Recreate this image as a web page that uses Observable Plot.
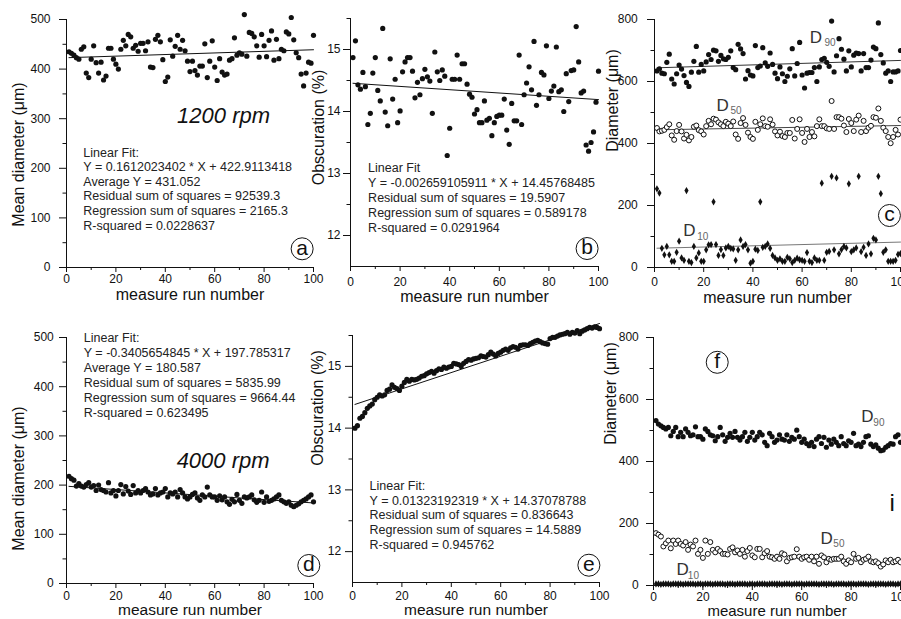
<!DOCTYPE html>
<html><head><meta charset="utf-8">
<script src="https://cdn.jsdelivr.net/npm/d3@7"></script>
<script src="https://cdn.jsdelivr.net/npm/@observablehq/plot@0.6"></script>
<style>
body{margin:0;background:#fff;}
#wrap{position:relative;width:901px;height:619px;overflow:hidden;background:#fff;}
.panel{position:absolute;}
</style></head><body><div id="wrap"></div>
<script>
// ---------- data ----------
const meanA = [435,432,428,423,420,440,445,392,383,420,
 447,413,392,414,378,386,442,442,420,410,
 400,440,458,447,470,465,442,448,436,452,
 452,437,455,404,403,460,468,455,419,375,
 384,459,426,446,468,440,458,437,416,395,
 416,397,388,406,406,451,383,416,457,404,
 377,421,394,388,390,418,421,463,428,433,
 430,510,426,474,472,465,447,424,470,447,
 425,458,477,418,460,421,440,437,475,471,
 504,459,433,423,390,366,392,414,412,468];
const obscB = [14.87,15.14,14.43,14.36,14.63,14.40,13.79,13.97,14.62,14.87,
 14.34,14.17,15.34,13.99,13.77,14.85,14.20,14.52,13.82,14.01,
 14.64,14.80,14.87,14.87,14.65,14.22,14.47,14.27,14.53,14.68,
 14.56,14.49,13.97,14.96,14.64,14.50,14.67,14.57,13.29,13.73,
 14.52,14.52,14.91,14.52,14.77,14.77,14.44,14.28,14.23,13.96,
 14.03,13.82,13.82,14.17,13.86,13.89,13.61,13.82,13.92,13.94,
 13.94,14.20,13.70,13.47,14.13,13.85,13.85,14.91,13.79,14.27,
 14.46,14.72,14.35,15.13,14.10,14.27,14.63,14.59,15.06,14.21,
 14.33,14.41,15.04,14.32,14.35,14.00,14.61,14.16,14.66,14.67,
 15.37,14.80,14.30,14.33,13.46,13.36,13.50,13.67,14.15,14.65];
const d90C = [634,641,627,625,662,688,608,592,625,653,
 640,619,597,584,630,665,713,630,655,634,
 663,687,671,701,699,665,684,673,671,678,
 699,645,638,720,705,690,608,635,621,618,
 716,645,650,709,660,649,692,655,627,609,
 647,625,600,617,641,706,618,658,726,621,
 579,627,629,629,645,600,647,671,675,662,
 649,795,631,683,738,704,672,634,699,647,
 685,692,690,634,690,645,645,669,711,706,
 789,687,660,627,634,600,631,631,634,700];
const d50C = [450,439,441,444,453,462,426,412,440,460,
 439,416,428,410,421,454,458,443,439,429,
 456,473,462,480,477,468,462,456,470,464,
 456,471,429,415,466,482,460,435,421,415,
 470,444,462,481,456,454,478,461,439,426,
 438,424,421,434,434,476,416,447,478,434,
 405,447,421,437,423,456,478,456,456,449,
 447,537,447,485,485,480,458,437,479,466,
 440,477,490,437,473,440,451,457,485,483,
 513,473,451,440,421,401,421,444,429,477];
const d10C = [254,240,62,41,68,41,20,20,49,85,
 31,23,248,20,16,68,31,47,20,20,
 57,73,74,212,74,39,58,39,63,68,
 62,60,23,57,89,68,74,57,14,20,
 59,55,212,65,68,76,62,39,31,23,
 28,20,20,33,28,16,23,30,25,23,
 20,48,20,16,31,23,23,272,23,49,
 52,294,57,289,44,58,68,63,270,51,
 57,63,294,51,65,39,76,44,94,89,
 294,238,49,57,20,20,20,23,42,45];
const meanD = [218,213,210,198,203,198,196,201,205,196,
 199,189,200,191,189,186,205,184,189,178,
 189,201,182,197,188,181,199,184,189,184,
 189,193,186,180,182,193,180,184,186,193,
 176,184,182,186,176,191,184,176,172,176,
 181,184,174,169,180,176,196,180,176,176,
 169,178,170,176,166,161,171,166,181,169,
 163,176,174,176,180,170,165,169,186,165,
 176,167,169,172,176,180,169,166,163,166,
 159,156,159,162,166,169,172,176,180,166];
const obscE = [14.00,14.04,14.16,14.19,14.25,14.32,14.36,14.39,14.46,14.50,
 14.54,14.52,14.54,14.61,14.63,14.70,14.66,14.64,14.61,14.68,
 14.74,14.79,14.76,14.79,14.78,14.79,14.81,14.84,14.85,14.88,
 14.90,14.92,14.89,14.93,14.96,14.95,14.99,14.97,14.99,15.00,
 15.05,15.04,15.03,15.00,15.05,15.08,15.11,15.10,15.12,15.13,
 15.14,15.17,15.16,15.15,15.19,15.23,15.20,15.17,15.21,15.23,
 15.26,15.28,15.26,15.30,15.32,15.31,15.28,15.34,15.35,15.35,
 15.34,15.37,15.39,15.41,15.42,15.40,15.38,15.37,15.36,15.45,
 15.47,15.47,15.49,15.51,15.52,15.53,15.55,15.52,15.55,15.54,
 15.58,15.53,15.57,15.59,15.61,15.63,15.62,15.64,15.63,15.61];
const d90F = [532,521,515,510,505,510,483,497,510,480,
 494,480,505,494,483,486,512,480,480,472,
 505,497,486,483,467,480,510,486,465,478,
 491,478,497,478,469,480,494,465,478,494,
 469,480,494,486,462,451,491,480,462,469,
 486,472,469,486,465,478,472,501,480,462,
 472,458,451,462,448,472,480,458,478,446,
 469,456,472,462,451,480,458,451,467,462,
 491,451,456,448,462,480,483,456,448,454,
 443,435,437,446,451,458,456,480,486,462];
const d50F = [169,164,158,126,136,145,120,145,134,145,
 134,129,140,115,132,126,145,102,115,89,
 145,102,140,115,107,118,111,102,102,100,
 118,123,107,113,102,115,93,111,121,97,
 91,118,118,91,104,111,93,91,86,93,
 86,104,100,78,89,91,93,117,93,86,
 91,93,83,93,78,93,70,97,91,75,
 86,83,86,86,86,93,78,70,81,75,
 102,86,89,75,83,86,93,78,75,78,
 72,61,68,81,75,83,75,78,83,75];
const d10F = [5,5,4,5,5,5,4,5,5,5,
 5,4,5,5,5,5,4,5,5,4,
 5,5,5,4,5,5,5,5,4,5,
 5,5,4,5,5,5,5,4,5,5,
 4,5,5,5,5,4,5,5,5,5,
 5,4,5,5,5,4,5,5,5,5,
 4,5,5,5,5,5,4,5,5,5,
 5,5,4,5,5,5,5,4,5,5,
 5,4,5,5,5,5,4,5,5,5,
 5,5,5,4,5,5,5,4,5,5];

// fit coefficients [slope, intercept]
const fitA = [0.1612023402, 422.9113418];
const fitB = [-0.002659105911, 14.45768485];
const fitD = [-0.3405654845, 197.785317];
const fitE = [0.01323192319, 14.37078788];
const fitC90 = [0.24, 644];
const fitC50 = [0.14, 444];
const fitC10 = [0.2, 62];

const statsA = ["Linear Fit:", "Y = 0.1612023402 * X + 422.9113418", "Average Y = 431.052",
  "Residual sum of squares = 92539.3", "Regression sum of squares = 2165.3", "R-squared = 0.0228637"];
const statsB = ["Linear Fit", "Y = -0.002659105911 * X + 14.45768485", "Residual sum of squares = 19.5907",
  "Regression sum of squares = 0.589178", "R-squared = 0.0291964"];
const statsD = ["Linear Fit:", "Y = -0.3405654845 * X + 197.785317", "Average Y = 180.587",
  "Residual sum of squares = 5835.99", "Regression sum of squares = 9664.44", "R-squared = 0.623495"];
const statsE = ["Linear Fit:", "Y = 0.01323192319 * X + 14.37078788", "Residual sum of squares = 0.836643",
  "Regression sum of squares = 14.5889", "R-squared = 0.945762"];

const xMajor = [0,20,40,60,80,100];
const xMinor = [10,30,50,70,90];
const yMajorMean = [0,100,200,300,400,500];
const yMinorMean = [50,150,250,350,450];
const yMajorObsc = [12,13,14,15];
const yMinorObsc = [12.5,13.5,14.5,15.5];
const yMajorDia = [0,200,400,600,800];
const yMinorDia = [100,300,500,700];
const xTitle = "measure run number";

// ---------- helpers ----------
const FONT = '"Liberation Sans", Arial, Helvetica, sans-serif';
const INK = "#111";
const series = vals => vals.map((v, i) => ({run: i + 1, v}));
const fitLine = (vals, [m, b]) => [1, vals.length].map(x => ({run: x, v: m * x + b}));
const txt = d => d;
const fmt = d => String(d);

function axes(o) {
  return [
    Plot.axisY({ticks: o.yMajor, tickSize: 7, tickPadding: o.yPad, tickFormat: fmt, fontSize: 12, label: null, stroke: INK}),
    Plot.axisY({ticks: o.yMinor, tickSize: 3.5, tickFormat: () => "", label: null, stroke: INK}),
    Plot.axisX({ticks: xMajor, tickSize: 5, tickPadding: o.xPad, tickFormat: fmt, fontSize: 12, label: null, stroke: INK}),
    Plot.axisX({ticks: xMinor, tickSize: 3, tickFormat: () => "", label: null, stroke: INK}),
    Plot.ruleX([0], {stroke: INK}),
    Plot.ruleY([o.ydomain[0]], {stroke: INK}),
    Plot.text([o.ylabel], {text: txt, frameAnchor: "left", textAnchor: "middle", rotate: -90, dx: o.ylDx, dy: o.ylDy, fontSize: 16, lineAnchor: "middle", fill: INK}),
    Plot.text([xTitle], {text: txt, frameAnchor: "bottom", textAnchor: "middle", dy: o.xlDy, fontSize: o.xlSize || 16, lineAnchor: "middle", fill: INK})
  ];
}
function circleLabel(letter, x, y) {
  return [
    Plot.dot([0], {x: () => x, y: () => y, r: 11, stroke: INK, fill: "white", strokeWidth: 1}),
    Plot.text([letter], {text: txt, x: () => x, y: () => y, fontSize: 21, dy: -1, fill: INK})
  ];
}
function sub(main, subs, x, y, xs, ys) {
  return [
    Plot.text([main], {text: txt, x: () => x, y: () => y, textAnchor: "start", fontSize: 17, fill: "#333"}),
    Plot.text([subs], {text: txt, x: () => xs, y: () => ys, textAnchor: "start", fontSize: 10, fill: "#666"})
  ];
}
const wrap = document.getElementById("wrap");
function panel(p) {
  const width = p.ml + p.fw + 12, height = p.mt + p.fh + 40;
  const svg = Plot.plot({
    width, height, marginLeft: p.ml, marginTop: p.mt, marginBottom: 40, marginRight: 12,
    x: {domain: [0, 100]}, y: {domain: p.ydomain},
    style: {fontFamily: FONT, fontSize: "12px", color: INK, background: "transparent", overflow: "visible", maxWidth: "none"},
    marks: [...axes(p), ...p.marks]
  });
  const div = document.createElement("div");
  div.className = "panel";
  div.style.left = p.left + "px"; div.style.top = p.top + "px"; div.style.width = width + "px";
  div.appendChild(svg);
  wrap.appendChild(div);
}

// ---------- panels ----------
panel({left: 0, top: 0, ml: 66, mt: 19, fw: 247, fh: 248, ydomain: [0, 500],
  yMajor: yMajorMean, yMinor: yMinorMean, yPad: 9, xPad: 2.4,
  ylabel: "Mean diameter (μm)", ylDx: -48, ylDy: 11, xlDy: 27,
  marks: [
    Plot.line(fitLine(meanA, fitA), {x: "run", y: "v", stroke: INK, strokeWidth: 1}),
    Plot.dot(series(meanA), {x: "run", y: "v", r: 2.6, fill: INK}),
    Plot.text(["1200 rpm"], {text: txt, x: () => 63.6, y: () => 306, fontSize: 22, fontStyle: "italic", fill: INK}),
    Plot.text([statsA.join("\n")], {text: txt, x: () => 6.8, y: () => 159.5, textAnchor: "start", lineAnchor: "middle", lineHeight: 1.17, fontSize: 12.5, fill: "#222"}),
    ...circleLabel("a", 95.4, 37.7)
  ]});

panel({left: 300, top: 0, ml: 50, mt: 18, fw: 248, fh: 248, ydomain: [11.5, 15.5],
  yMajor: yMajorObsc, yMinor: yMinorObsc, yPad: 3, xPad: 5.5,
  ylabel: "Obscuration (%)", ylDx: -32, ylDy: -15, xlDy: 30,
  marks: [
    Plot.line(fitLine(obscB, fitB), {x: "run", y: "v", stroke: INK, strokeWidth: 1}),
    Plot.dot(series(obscB), {x: "run", y: "v", r: 2.6, fill: INK}),
    Plot.text([statsB.join("\n")], {text: txt, x: () => 7.1, y: () => 12.62, textAnchor: "start", lineAnchor: "middle", lineHeight: 1.2, fontSize: 12.5, fill: "#222"}),
    ...circleLabel("b", 95.4, 11.79)
  ]});

panel({left: 600, top: 0, ml: 54, mt: 19, fw: 246, fh: 248, ydomain: [0, 800],
  yMajor: yMajorDia, yMinor: yMinorDia, yPad: 9.7, xPad: 4.5,
  ylabel: "Diameter (μm)", ylDx: -42, ylDy: -43, xlDy: 30.5,
  marks: [
    Plot.line(fitLine(d90C, fitC90), {x: "run", y: "v", stroke: "#333", strokeWidth: 1}),
    Plot.line(fitLine(d50C, fitC50), {x: "run", y: "v", stroke: "#444", strokeWidth: 1}),
    Plot.line(fitLine(d10C, fitC10), {x: "run", y: "v", stroke: "#777", strokeWidth: 1}),
    Plot.dot(series(d90C), {x: "run", y: "v", r: 2.6, fill: INK}),
    Plot.dot(series(d50C), {x: "run", y: "v", r: 2.5, fill: "white", stroke: INK, strokeWidth: 1}),
    Plot.dot(series(d10C), {x: "run", y: "v", r: 2.2, symbol: "diamond", fill: INK}),
    ...sub("D", "90", 63.1, 743, 69.1, 723.5),
    ...sub("D", "50", 25.2, 521, 30.9, 505.5),
    ...sub("D", "10", 11.7, 120.3, 17.4, 100.6),
    ...circleLabel("c", 95.5, 167.7)
  ]});

panel({left: 0, top: 310, ml: 66, mt: 27, fw: 247, fh: 246, ydomain: [0, 500],
  yMajor: yMajorMean, yMinor: yMinorMean, yPad: 5.7, xPad: 2.5,
  ylabel: "Mean diameter (μm)", ylDx: -48, ylDy: 18, xlDy: 27, xlSize: 15.5,
  marks: [
    Plot.line(fitLine(meanD, fitD), {x: "run", y: "v", stroke: INK, strokeWidth: 1}),
    Plot.dot(series(meanD), {x: "run", y: "v", r: 2.6, fill: INK}),
    Plot.text(["4000 rpm"], {text: txt, x: () => 63.4, y: () => 250, fontSize: 22, fontStyle: "italic", fill: INK}),
    Plot.text([statsD.join("\n")], {text: txt, x: () => 7.0, y: () => 425, textAnchor: "start", lineAnchor: "middle", lineHeight: 1.2, fontSize: 12.5, fill: "#222"}),
    ...circleLabel("d", 98.1, 36.6)
  ]});

panel({left: 300, top: 310, ml: 52, mt: 25, fw: 247, fh: 247, ydomain: [11.5, 15.5],
  yMajor: yMajorObsc, yMinor: yMinorObsc, yPad: 4.3, xPad: 3.5,
  ylabel: "Obscuration (%)", ylDx: -35, ylDy: -51, xlDy: 28, xlSize: 15.5,
  marks: [
    Plot.line(fitLine(obscE, fitE), {x: "run", y: "v", stroke: INK, strokeWidth: 1}),
    Plot.dot(series(obscE), {x: "run", y: "v", r: 2.6, fill: INK}),
    Plot.text([statsE.join("\n")], {text: txt, x: () => 6.9, y: () => 12.598, textAnchor: "start", lineAnchor: "middle", lineHeight: 1.17, fontSize: 12.5, fill: "#222"}),
    ...circleLabel("e", 95.7, 11.78)
  ]});

panel({left: 600, top: 310, ml: 53, mt: 27, fw: 247, fh: 248, ydomain: [0, 800],
  yMajor: yMajorDia, yMinor: yMinorDia, yPad: 7.7, xPad: 1.5,
  ylabel: "Diameter (μm)", ylDx: -43, ylDy: -68, xlDy: 26, xlSize: 15,
  marks: [
    Plot.dot(series(d90F), {x: "run", y: "v", r: 2.6, fill: INK}),
    Plot.dot(series(d50F), {x: "run", y: "v", r: 2.5, fill: "white", stroke: INK, strokeWidth: 1}),
    Plot.dot(series(d10F), {x: "run", y: "v", r: 2.2, symbol: "diamond", fill: INK}),
    ...sub("D", "90", 84.1, 544, 89.0, 524),
    ...sub("D", "50", 67.6, 153, 72.8, 134.5),
    ...sub("D", "10", 9.3, 51, 13.9, 32),
    Plot.text(["i"], {text: txt, x: () => 96.6, y: () => 265.5, fontSize: 24, fill: INK}),
    ...circleLabel("f", 25.8, 720)
  ]});
</script></body></html>
